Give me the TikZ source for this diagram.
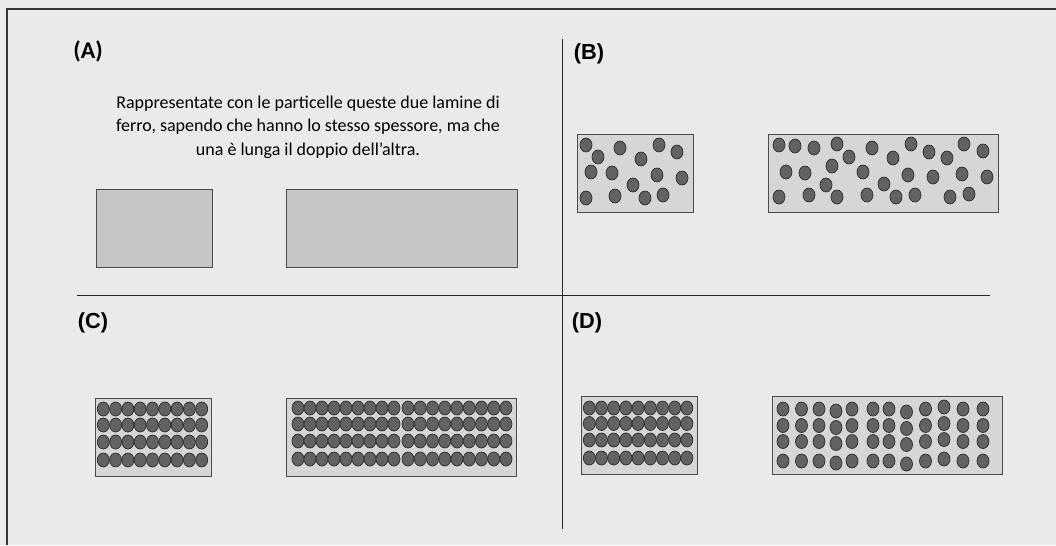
\documentclass[tikz,border=0pt]{standalone}
\usepackage{fontspec}
\setmainfont{Carlito}
\newfontfamily\arialfont{Liberation Sans}
\usetikzlibrary{positioning}
\definecolor{paper}{RGB}{234,234,234}
\definecolor{sheetA}{RGB}{198,198,198}
\definecolor{sheet}{RGB}{214,214,214}
\definecolor{sheetline}{RGB}{75,75,75}
\definecolor{dotfill}{RGB}{98,98,98}
\definecolor{dotline}{RGB}{45,45,45}

\begin{document}
\begin{tikzpicture}[x=0.025cm,y=-0.025cm,node distance=1.85cm,
          lamina/.style={draw=sheetline,fill=sheet,line width=0.6pt,
                         minimum height=1.95cm,inner sep=0pt},
          shortsheet/.style={lamina,minimum width=2.9cm},
          longsheet/.style={lamina,minimum width=5.75cm},
          particle/.style={draw=dotline,fill=dotfill,line width=0.5pt},
          tag/.style={font=\arialfont\bfseries\fontsize{15.5}{15.5}\selectfont,inner sep=0pt},
          divider/.style={line width=0.7pt,black!85}]
        \useasboundingbox (0,0) rectangle (1056,545);
        \fill[paper] (0,0) rectangle (1056,545);
        % frame and dividers
        \coordinate (fbot) at (7,545);
        \coordinate (fcorner) at (7,9);
        \coordinate (fright) at (1056,9);
        \coordinate (vtop) at (562,39);
        \coordinate (vbot) at (562,529);
        \coordinate (hleft) at (77,295);
        \coordinate (hright) at (990,295);
        \draw[line width=1pt,black!80] (fbot) -- (fcorner) -- (fright);
        \draw[divider] (vtop) -- (vbot);
        \draw[divider] (hleft) -- (hright);
        % labels
        \node[tag,font=\bfseries\fontsize{17}{17}\selectfont] (ta) at (88,51) {(A)};
        \node[tag] (tb) at (589,54) {(B)};
        \node[tag] (tc) at (93,323) {(C)};
        \node[tag] (td) at (587,323) {(D)};
        \node[font=\fontsize{12.8}{16.6}\selectfont,align=center,inner sep=0pt] (task) at (308,127)
          {Rappresentate con le particelle queste due lamine di\\
           ferro, sapendo che hanno lo stesso spessore, ma che\\
           una è lunga il doppio dell’altra.};
        % (A) empty sheets
        \node[shortsheet,fill=sheetA] (as) at (154,228) {};
        \node[longsheet,fill=sheetA,right=of as] (al) {};
        % (B) scattered particles
        \node[shortsheet] (bs) at (635.5,173) {};
        \node[longsheet,right=of bs] (bl) {};
        \foreach \x/\y in {586/145,598/157,620/148,641/159,659/145,677/152,
                           591/172,612/173,657/175,682/178,633/185,
                           586/198,615/196,645/198,663/195}
          \path[particle] (\x,\y) ellipse [x radius=0.15cm,y radius=0.175cm];
        \foreach \x/\y in {779/145,795/146,814/148,837/144,849/157,872/148,
                           893/158,911/144,929/152,947/158,964/144,983/151,
                           786/172,805/173,832/166,826/185,863/172,884/184,
                           908/175,933/177,962/174,987/177,
                           779/197,809/195,837/197,867/195,896/197,915/195,
                           950/197,969/194}
          \path[particle] (\x,\y) ellipse [x radius=0.15cm,y radius=0.175cm];
        % (C) packed particles
        \node[shortsheet] (cs) at (153.5,437) {};
        \node[longsheet,right=of cs] (cl) {};
        \foreach \c in {0,...,8}
          \foreach \r in {409,425,442,460}
            \path[particle] (103.3+12.3*\c,\r) ellipse [x radius=0.15cm,y radius=0.175cm];
        \foreach \c in {0,...,8}
          \foreach \r in {408,424,441,459} {
            \path[particle] (298+12*\c,\r) ellipse [x radius=0.15cm,y radius=0.175cm];
            \path[particle] (408+12.25*\c,\r) ellipse [x radius=0.15cm,y radius=0.175cm];
          }
        % (D) packed vs spread
        \node[shortsheet] (ds) at (639.5,435) {};
        \node[longsheet,right=of ds] (dl) {};
        \foreach \c in {0,...,8}
          \foreach \r in {408,423.5,440,458}
            \path[particle] (589.3+12.2*\c,\r) ellipse [x radius=0.15cm,y radius=0.175cm];
        \foreach \x/\d in {783/0,801.5/0,819/0,836/2,852/0,873/0,
                           889/0,906.5/3,925.5/0,944/-2,963/0,983/0}
          \foreach \r in {409,425.5,441.5,461}
            \path[particle] (\x,\r+\d) ellipse [x radius=0.15cm,y radius=0.175cm];
      \end{tikzpicture}
\end{document}
